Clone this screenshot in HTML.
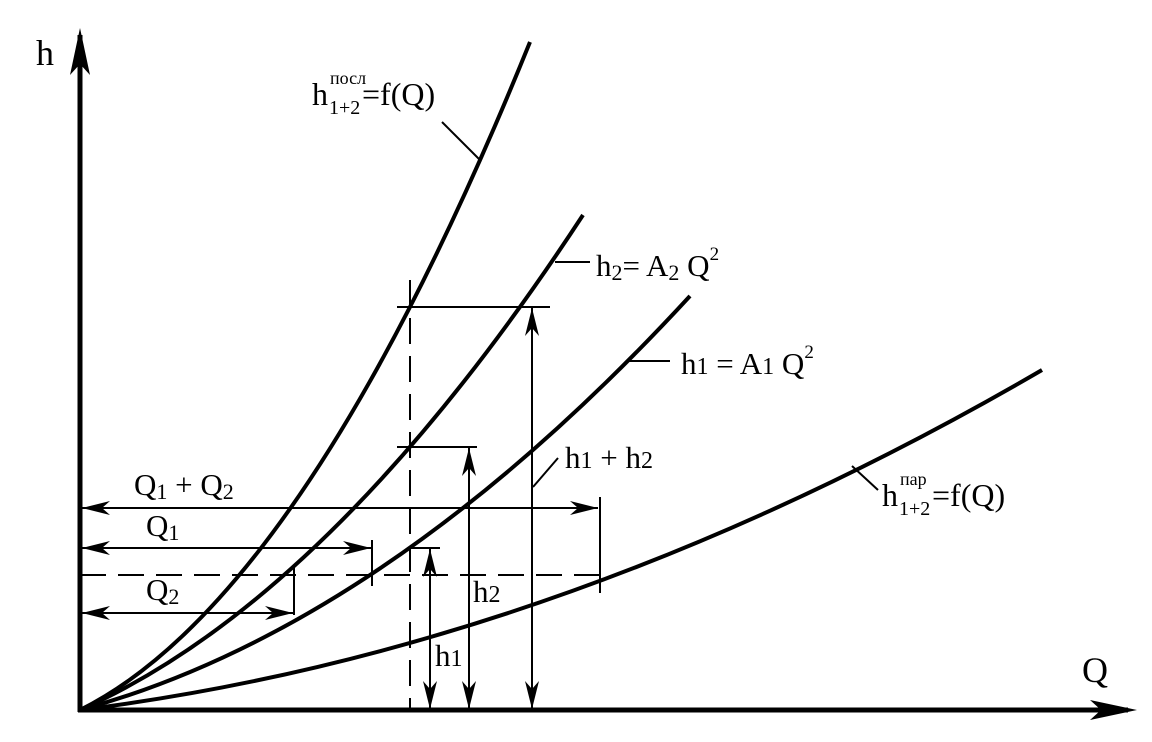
<!DOCTYPE html>
<html><head><meta charset="utf-8"><style>
html,body{margin:0;padding:0;background:#fff;}
svg{display:block;}
text{font-family:"Liberation Serif",serif;fill:#000;}
</style></head><body>
<svg width="1152" height="742" viewBox="0 0 1152 742" xmlns="http://www.w3.org/2000/svg">
<defs>
<marker id="a" markerWidth="30" markerHeight="14" refX="28" refY="7" orient="auto-start-reverse" markerUnits="userSpaceOnUse">
<path d="M0,0 L28,7 L0,14 L8,7 Z" fill="#000"/>
</marker>
</defs>
<!-- axes -->
<line x1="80" y1="712" x2="80" y2="35" stroke="#000" stroke-width="5"/>
<path d="M80,28 L70,75 L80,64 L90,75 Z" fill="#000"/>
<line x1="78" y1="710" x2="1128" y2="710" stroke="#000" stroke-width="5"/>
<path d="M1137,710 L1090,700 L1101,710 L1090,720 Z" fill="#000"/>
<text x="36" y="65" font-size="36">h</text>
<text x="1082" y="682" font-size="36">Q</text>

<g fill="none" stroke="#000" stroke-width="4">
<path d="M80,710 Q305,598 530,42"/>
<path d="M80,710 Q331.5,599 583,215"/>
<path d="M80,710 Q385,627 690,296"/>
<path d="M80,710 Q561,650 1042,370"/>
</g>

<g stroke="#000" stroke-width="2" fill="none">
<line x1="410" y1="280" x2="410" y2="710" stroke-dasharray="26,12"/>
<line x1="80" y1="575" x2="600" y2="575" stroke-dasharray="26,12"/>
<line x1="397" y1="307" x2="550" y2="307"/>
<line x1="397" y1="447" x2="477" y2="447"/>
<line x1="410" y1="548" x2="440" y2="548"/>
<line x1="600" y1="497" x2="600" y2="593"/>
<line x1="372" y1="540" x2="372" y2="586"/>
<line x1="294" y1="565" x2="294" y2="615"/>
<line x1="82" y1="508" x2="598" y2="508" marker-start="url(#a)" marker-end="url(#a)"/>
<line x1="82" y1="548" x2="371" y2="548" marker-start="url(#a)" marker-end="url(#a)"/>
<line x1="82" y1="613" x2="293" y2="613" marker-start="url(#a)" marker-end="url(#a)"/>
<line x1="430" y1="549" x2="430" y2="709" marker-start="url(#a)" marker-end="url(#a)"/>
<line x1="469" y1="448" x2="469" y2="709" marker-start="url(#a)" marker-end="url(#a)"/>
<line x1="532" y1="308" x2="532" y2="709" marker-start="url(#a)" marker-end="url(#a)"/>
<line x1="480" y1="160" x2="442" y2="122"/>
<line x1="555" y1="262" x2="590" y2="262"/>
<line x1="627" y1="361" x2="670" y2="361"/>
<line x1="533" y1="487" x2="558" y2="458"/>
<line x1="852" y1="466" x2="878" y2="490"/>
</g>

<text x="312" y="105" font-size="32">h</text>
<text x="330" y="84" font-size="18">посл</text>
<text x="329" y="114" font-size="20">1+2</text>
<text x="362" y="105" font-size="32">=f(Q)</text>

<text x="596" y="276" font-size="31">h<tspan font-size="22" dy="4">2</tspan><tspan dy="-4">= A</tspan><tspan font-size="22" dy="4">2</tspan><tspan dy="-4"> Q</tspan><tspan font-size="19" dy="-16">2</tspan></text>
<text x="681" y="374" font-size="31">h<tspan font-size="24">1</tspan> = A<tspan font-size="24">1</tspan> Q<tspan font-size="19" dy="-16">2</tspan></text>
<text x="565" y="468" font-size="31">h<tspan font-size="24">1</tspan> + h<tspan font-size="24">2</tspan></text>

<text x="882" y="506" font-size="32">h</text>
<text x="900" y="485" font-size="18">пар</text>
<text x="899" y="515" font-size="20">1+2</text>
<text x="932" y="506" font-size="32">=f(Q)</text>

<text x="134" y="495" font-size="31">Q<tspan font-size="22" dy="4">1</tspan><tspan dy="-4"> + Q</tspan><tspan font-size="22" dy="4">2</tspan></text>
<text x="146" y="536" font-size="31">Q<tspan font-size="22" dy="4">1</tspan></text>
<text x="146" y="600" font-size="31">Q<tspan font-size="22" dy="4">2</tspan></text>
<text x="473" y="602" font-size="31">h<tspan font-size="24">2</tspan></text>
<text x="435" y="666" font-size="31">h<tspan font-size="24">1</tspan></text>
</svg>
</body></html>
